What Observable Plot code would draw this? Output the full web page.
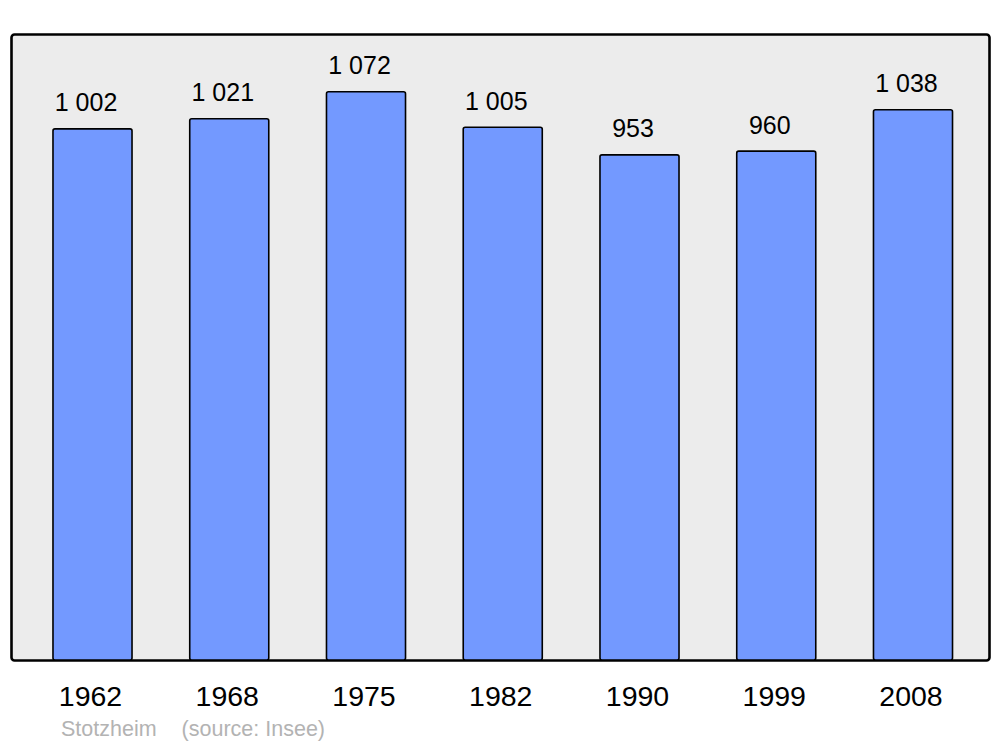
<!DOCTYPE html>
<html>
<head>
<meta charset="utf-8">
<script src="https://cdn.jsdelivr.net/npm/d3@7"></script>
<script src="https://cdn.jsdelivr.net/npm/@observablehq/plot@0.6"></script>
<style>
  html, body { margin: 0; padding: 0; background: #ffffff; }
  #wrap { position: relative; width: 1000px; height: 747px; font-family: "Liberation Sans", Arial, sans-serif; }
  #caption { position: absolute; left: 61px; top: 717px; font-size: 21.5px; color: #b3b3b3; white-space: pre; }
  #caption span.src { margin-left: 25px; }
</style>
</head>
<body>
<div id="wrap">
  <div id="chart"></div>
  <div id="caption"><span>Stotzheim</span><span class="src">(source: Insee)</span></div>
</div>
<script>
const years = ["1962", "1968", "1975", "1982", "1990", "1999", "2008"];
const population = [1002, 1021, 1072, 1005, 953, 960, 1038];

const data = years.map((y, i) => ({year: y, pop: population[i]}));
const fmt = n => n >= 1000 ? Math.floor(n / 1000) + " " + String(n % 1000).padStart(3, "0") : String(n);

const chart = Plot.plot({
  width: 1000,
  height: 712,
  marginLeft: 11,
  marginRight: 11,
  marginTop: 34,
  marginBottom: 52,
  style: {fontFamily: "Liberation Sans, Arial, sans-serif", background: "transparent"},
  x: {type: "band", domain: years, range: [11, 994.5], paddingInner: 0.422, paddingOuter: 0.307, round: false, label: null},
  y: {domain: [0, 1181], axis: null},
  marks: [
    Plot.frame({fill: "#ececec", stroke: "#000", strokeWidth: 2.6, rx: 3}),
    Plot.barY(data, {x: "year", y: "pop", fill: "#7399ff", stroke: "#000", strokeWidth: 1.6, rx: 2}),
    Plot.text(data, {x: "year", y: "pop", text: d => fmt(d.pop), lineAnchor: "bottom", dy: -18, dx: -7, fontSize: 25, fill: "#000"}),
    Plot.axisX({tickSize: 0, tickPadding: 25, fontSize: 28.5, dx: -2.5, label: null, fill: "#000"})
  ]
});
document.getElementById("chart").appendChild(chart);
</script>
</body>
</html>
